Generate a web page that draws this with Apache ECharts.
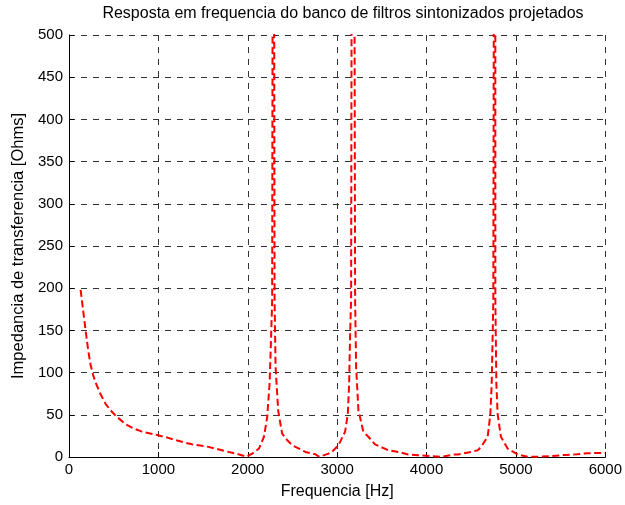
<!DOCTYPE html>
<html>
<head>
<meta charset="utf-8">
<script src="https://cdn.jsdelivr.net/npm/echarts@6/dist/echarts.min.js"></script>
<style>
html,body{margin:0;padding:0;background:#fff;}
#c{width:625px;height:505px;}
</style>
</head>
<body>
<div id="c"></div>
<script>
// Frequency [Hz]
const freq = [
  130,160,186,215,242,270,298,350,409,460,521,632,720,817,984,1100,1190,1375,1561,1747,1895,1985,
  2050,2125,2181,2217,2244,2262,2273,2286,2300,2311,2340,2384,2422,2496,2645,2756,2800,
  2904,2941,3015,3089,3119,3134,3145,3156,3176,3201,3212,3238,3293,3349,3423,3571,3683,3794,3905,4164,
  4314,4350,4498,4573,4610,4684,4714,4729,4740,4747,4768,4770,4781,4795,4832,4907,5018,5129,
  5240,5400,5550,5685,5800,6000
];
// Transfer impedance [Ohms]
const impedance = [
  198,172,150,126,109,97,88,75,63,56,49,39,34,30,26,23,20,15,12,7,3.2,0.5,
  4,10,24,47,87,146,186,1200,186,107,55,28,22,14,6,3.2,0.3,
  4,6,14,30,51,87,146,186,1500,186,107,55,30,24,15,8,6,3,2,0.2,
  3,3,6,8,12,24,51,87,146,186,1500,186,87,51,24,10,3,0.3,
  0.3,1,2.5,3.2,4.5,5
];
const xTicks = [0,1000,2000,3000,4000,5000,6000];
const yTicks = [0,50,100,150,200,250,300,350,400,450,500];

const data = freq.map((f,i)=>[f, impedance[i]]);
const font = 'Liberation Sans, Arial, sans-serif';
const gridLine = {show:true, lineStyle:{color:'#333', width:1, type:[6,6]}};

const chart = echarts.init(document.getElementById('c'), null, {renderer:'canvas'});
chart.setOption({
  animation:false,
  backgroundColor:'#fff',
  title:{
    text:'Resposta em frequencia do banco de filtros sintonizados projetados',
    left:338, top:1, textAlign:'center',
    textStyle:{fontFamily:font, fontSize:16, fontWeight:'normal', color:'#000'}
  },
  grid:{left:69, right:17, top:35, bottom:48, containLabel:false},
  xAxis:{
    type:'value', min:xTicks[0], max:xTicks[xTicks.length-1], interval:1000,
    name:'Frequencia [Hz]', nameLocation:'middle', nameGap:27,
    nameTextStyle:{fontFamily:font, fontSize:16, color:'#000'},
    axisLine:{show:true, onZero:false, lineStyle:{color:'#000', width:1}},
    axisTick:{show:true, inside:true, length:5, lineStyle:{color:'#000'}},
    axisLabel:{fontFamily:font, fontSize:15, color:'#000', margin:5, formatter:(v)=>String(v)},
    splitLine:gridLine
  },
  yAxis:{
    type:'value', min:yTicks[0], max:yTicks[yTicks.length-1], interval:50,
    name:'Impedancia de transferencia [Ohms]', nameLocation:'middle', nameGap:42,
    nameTextStyle:{fontFamily:font, fontSize:16.5, color:'#000'},
    axisLine:{show:true, lineStyle:{color:'#000', width:1}},
    axisTick:{show:true, inside:true, length:5, lineStyle:{color:'#000'}},
    axisLabel:{fontFamily:font, fontSize:15, color:'#000', margin:6, formatter:(v)=>String(v)},
    splitLine:gridLine
  },
  series:[{
    type:'line', data:data, showSymbol:false, clip:true,
    lineStyle:{color:'#ff0000', width:2, type:[7,3.5]}
  }]
});
</script>
</body>
</html>
